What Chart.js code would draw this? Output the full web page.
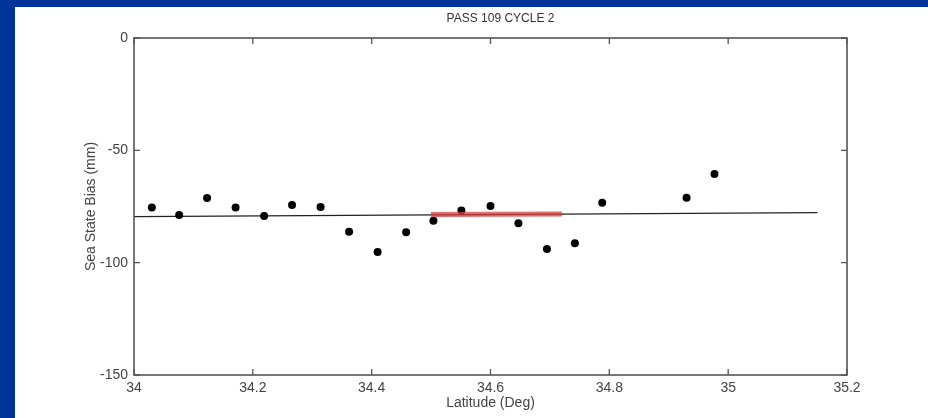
<!DOCTYPE html>
<html>
<head>
<meta charset="utf-8">
<script src="https://cdn.jsdelivr.net/npm/chart.js@4"></script>
<style>
  html, body { margin: 0; padding: 0; }
  body { width: 928px; height: 418px; background: #003399; overflow: hidden; position: relative; }
  #panel { position: absolute; left: 15px; top: 7px; width: 913px; height: 411px; background: #fff; }
  canvas { display: block; }
</style>
</head>
<body>
<div id="panel"><canvas id="ssbChart" width="913" height="411"></canvas></div>
<script>
// data
const latitude = [34.030, 34.076, 34.123, 34.171, 34.219, 34.266, 34.314, 34.362, 34.410, 34.458,
                  34.504, 34.551, 34.600, 34.647, 34.695, 34.742, 34.788, 34.930, 34.977];
const bias = [-75.5, -78.8, -71.2, -75.5, -79.2, -74.3, -75.2, -86.2, -95.2, -86.5,
              -81.3, -76.8, -74.8, -82.5, -93.9, -91.4, -73.3, -71.1, -60.5];
const fitLat = [34.0, 35.15];
const fitBias = [-79.5, -77.7];
const redLat = [34.5, 34.72];
const redBias = [-78.6, -78.3];
const xTicks = [34, 34.2, 34.4, 34.6, 34.8, 35, 35.2];
const yTicks = [0, -50, -100, -150];

const toXY = (xs, ys) => xs.map((x, i) => ({ x: x, y: ys[i] }));
const font = { family: "'Liberation Sans', Arial, Helvetica, sans-serif", size: 14 };

// frame, inward ticks and title (matlab look)
const framePlugin = {
    id: 'frame',
    afterDatasetsDraw(chart) {
        const { ctx, chartArea: a, scales } = chart;
        ctx.save();
        ctx.strokeStyle = '#555';
        ctx.lineWidth = 1.6;
        ctx.strokeRect(a.left, a.top, a.right - a.left, a.bottom - a.top);
        ctx.lineWidth = 1.3;
        ctx.beginPath();
        const tl = 6;
        xTicks.forEach(v => {
            const px = scales.x.getPixelForValue(v);
            ctx.moveTo(px, a.bottom); ctx.lineTo(px, a.bottom - tl);
            ctx.moveTo(px, a.top); ctx.lineTo(px, a.top + tl);
        });
        yTicks.forEach(v => {
            const py = scales.y.getPixelForValue(v);
            ctx.moveTo(a.left, py); ctx.lineTo(a.left + tl, py);
            ctx.moveTo(a.right, py); ctx.lineTo(a.right - tl, py);
        });
        ctx.stroke();
        ctx.fillStyle = '#333';
        ctx.font = "12px 'Liberation Sans', Arial, sans-serif";
        ctx.textAlign = 'center';
        ctx.textBaseline = 'middle';
        ctx.fillText('PASS 109 CYCLE 2', (a.left + a.right) / 2 + 10, 12);
        ctx.restore();
    }
};

new Chart(document.getElementById('ssbChart'), {
    type: 'scatter',
    data: {
        datasets: [
            {
                type: 'line',
                data: toXY(redLat, redBias),
                borderColor: 'rgba(215, 60, 60, 0.75)',
                borderWidth: 5,
                pointRadius: 0
            },
            {
                data: toXY(latitude, bias),
                backgroundColor: '#000',
                borderColor: '#000',
                pointRadius: 4,
                borderWidth: 0
            },
            {
                type: 'line',
                data: toXY(fitLat, fitBias),
                borderColor: '#222',
                borderWidth: 1.2,
                pointRadius: 0
            }
        ]
    },
    options: {
        animation: false,
        responsive: false,
        events: [],
        layout: { padding: { top: 31, right: 81, left: 0, bottom: 0 } },
        plugins: { legend: { display: false }, tooltip: { enabled: false }, title: { display: false } },
        scales: {
            x: {
                type: 'linear',
                min: 34, max: 35.2,
                afterBuildTicks: s => { s.ticks = xTicks.map(v => ({ value: v })); },
                afterFit: s => { s.height = 43; },
                grid: { display: false, drawTicks: false },
                border: { display: false },
                ticks: { color: '#444', font: font, padding: 5, maxRotation: 0,
                         callback: v => String(+v.toFixed(1)) },
                title: { display: true, text: 'Latitude (Deg)', color: '#444', font: font,
                         padding: { top: 0, bottom: 6 } }
            },
            y: {
                min: -150, max: 0,
                afterBuildTicks: s => { s.ticks = yTicks.map(v => ({ value: v })); },
                afterFit: s => { s.width = 119; },
                grid: { display: false, drawTicks: false },
                border: { display: false },
                ticks: { color: '#444', font: font, padding: 6, callback: v => String(v) },
                title: { display: true, text: 'Sea State Bias (mm)', color: '#444', font: font,
                         padding: { top: 68, bottom: 0 } }
            }
        }
    },
    plugins: [framePlugin]
});
</script>
</body>
</html>
